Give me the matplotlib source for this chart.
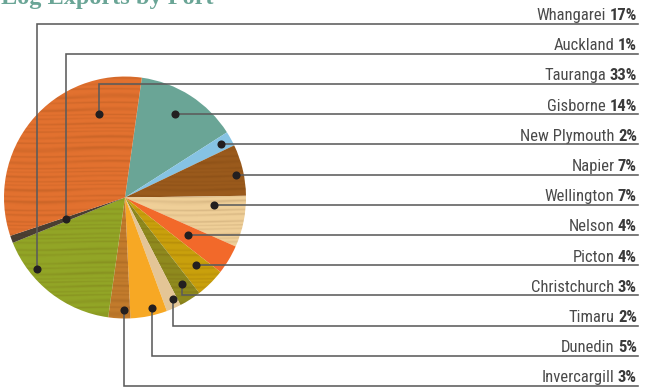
import numpy as np
import matplotlib
matplotlib.use("Agg")
import matplotlib.pyplot as plt
from matplotlib import font_manager
from matplotlib.colors import to_rgb

# Log exports share by port (%)
ports = ["Whangarei", "Auckland", "Tauranga", "Gisborne", "New Plymouth", "Napier",
         "Wellington", "Nelson", "Picton", "Christchurch", "Timaru", "Dunedin", "Invercargill"]
shares = [17, 1, 33, 14, 2, 7, 7, 4, 4, 3, 2, 5, 3]

# order the wedges are laid out clockwise from the top
pie_order = ["Gisborne", "New Plymouth", "Napier", "Wellington", "Nelson", "Picton",
             "Christchurch", "Timaru", "Dunedin", "Invercargill", "Whangarei", "Auckland", "Tauranga"]

colors = {
    "Tauranga": "#e2712f", "Gisborne": "#6aa596", "New Plymouth": "#86c3e3",
    "Napier": "#9a5a1c", "Wellington": "#efcf98", "Nelson": "#f2692a",
    "Picton": "#c9a00c", "Christchurch": "#8f8a1e", "Timaru": "#e4c596",
    "Dunedin": "#f7a824", "Invercargill": "#c27b2c", "Whangarei": "#92a526",
    "Auckland": "#4b4034",
}
# which wedges get the timber grain
grained = {"Tauranga", "Napier", "Wellington", "Picton", "Christchurch",
           "Invercargill", "Whangarei", "Auckland"}

# dot placement inside each wedge: fraction along the arc, radius fraction
# (None = put the dot on its label row)
anchors = {
    "Whangarei": (0.715, 0.94), "Auckland": (0.5, 0.52), "Tauranga": (0.78, 0.72),
    "Gisborne": (0.46, None), "New Plymouth": (0.5, None), "Napier": (0.56, None),
    "Wellington": (0.22, None), "Nelson": (0.49, None), "Picton": (0.4, None),
    "Christchurch": (0.42, 0.86), "Timaru": (0.3, 0.93), "Dunedin": (0.37, 0.94),
    "Invercargill": (0.3, 0.93),
}

W, H = 645, 389
CX, CY, R = 125, H - 197.5, 121
ROW0, ROW_STEP = 23.5, 30.2
X_END = 638
LINE_C = "#5b5b5b"


def first_font(candidates):
    have = {f.name for f in font_manager.fontManager.ttflist}
    for c in candidates:
        if c in have:
            return c
    return "DejaVu Sans"


label_font = first_font(["Liberation Sans Narrow", "Roboto Condensed", "Archivo Narrow",
                         "PT Sans Narrow", "Arimo", "DejaVu Sans"])

fig = plt.figure(figsize=(W / 100, H / 100), dpi=100)
ax = fig.add_axes([0, 0, 1, 1])

share_of = dict(zip(ports, shares))
wedges, _ = ax.pie([share_of[p] for p in pie_order],
                   colors=[colors[p] for p in pie_order],
                   startangle=82, counterclock=False,
                   center=(CX, CY), radius=R,
                   wedgeprops=dict(linewidth=0))

# timber grain texture laid over the wood-coloured wedges
gx = np.linspace(CX - R, CX + R, 300)
gy = np.linspace(CY - R, CY + R, 700)
X, Y = np.meshgrid(gx, gy)
grain = 0.5 + 0.5 * np.sin(2 * np.pi * Y / 5.3 + 0.9 * np.sin(2 * np.pi * X / 150)
                           + 2.6 * np.sin(2 * np.pi * Y / 53) + 1.1 * np.sin(2 * np.pi * Y / 13.7))
grain = grain ** 3 * (0.55 + 0.45 * np.sin(2 * np.pi * Y / 23 + X / 70) ** 2)
tex = np.zeros(grain.shape + (4,))
tex[..., :3] = to_rgb("#4a2200")
tex[..., 3] = 0.15 * grain
for name, w in zip(pie_order, wedges):
    if name in grained:
        im = ax.imshow(tex, extent=(CX - R, CX + R, CY - R, CY + R), origin="lower",
                       interpolation="bilinear", zorder=w.get_zorder() + 0.1)
        im.set_clip_path(w)
ax.set_xlim(0, W)
ax.set_ylim(0, H)
ax.set_aspect("equal")
ax.axis("off")

wedge_of = dict(zip(pie_order, wedges))
renderer = fig.canvas.get_renderer()

for i, name in enumerate(ports):
    row_y = H - (ROW0 + i * ROW_STEP)
    w = wedge_of[name]
    t, rf = anchors[name]
    theta = np.radians(w.theta2 - t * (w.theta2 - w.theta1))
    if rf is None:
        r = (row_y - CY) / np.sin(theta)
    else:
        r = rf * R
    dx, dy = CX + r * np.cos(theta), CY + r * np.sin(theta)

    # leader: vertical to the label row, then across under the label
    ax.plot([dx, dx, X_END], [dy, row_y, row_y], color=LINE_C, lw=1.15,
            solid_joinstyle="miter", zorder=5)
    ax.scatter([dx], [dy], s=34, color="#231f20", zorder=6, linewidths=0)

    pct = ax.text(X_END - 1, row_y + 3.5, f"{share_of[name]}%", ha="right", va="baseline",
                  fontsize=12, fontweight="bold", color="#3a3a3a", family=label_font)
    bb = pct.get_window_extent(renderer)
    ax.text(bb.x0 - 3.5, row_y + 3.5, name, ha="right", va="baseline",
            fontsize=12, color="#4a4a4a", family=label_font)

ax.text(1, H - 3.5, "Log Exports by Port", ha="left", va="baseline", fontsize=17.5,
        fontweight="bold", color="#6aa596", family=["Liberation Serif", "DejaVu Serif"])

fig.savefig("out.png", dpi=100)
